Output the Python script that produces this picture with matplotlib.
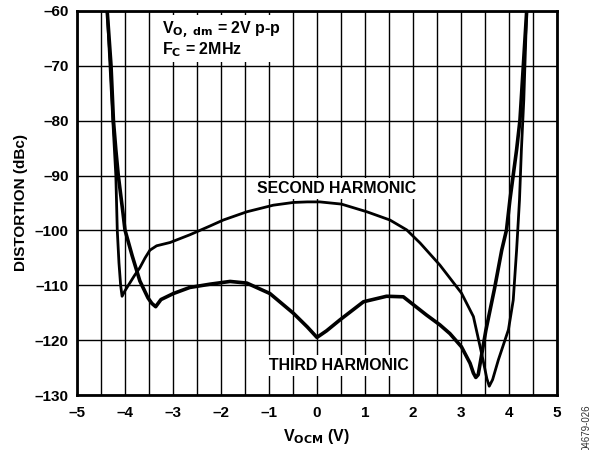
import numpy as np
import matplotlib.pyplot as plt
from matplotlib.ticker import MultipleLocator, FuncFormatter

plt.rcParams['font.family'] = ['Liberation Sans', 'DejaVu Sans']
plt.rcParams['mathtext.default'] = 'bf'

# values
second_v = [-4.37, -4.30, -4.24, -4.19, -4.16, -4.125, -4.09, -4.06, -4.00, -3.90, -3.80, -3.69,
            -3.58, -3.48, -3.34, -3.06, -2.65, -2.23, -1.95, -1.46, -0.91, -0.49, -0.20,
            0.06, 0.51, 1.04, 1.52, 1.87, 2.15, 2.56, 3.01, 3.26, 3.40, 3.46, 3.54, 3.59,
            3.66, 3.78, 3.99, 4.09, 4.16, 4.22, 4.26, 4.31, 4.37]
second_db = [-60, -72, -82, -90, -100, -105.9, -110, -112, -111, -109.6, -108.2, -106.8,
             -105, -103.6, -102.8, -102.2, -100.8, -99.2, -98.1, -96.6, -95.4, -94.9, -94.8,
             -94.8, -95.2, -96.6, -98.1, -99.9, -102.3, -106.3, -111.4, -115.7, -121.2, -123.6, -127, -128.4,
             -127.2, -123.6, -118.1, -112.7, -103.6, -94.5, -85.3, -76.2, -60]

third_v = [-4.37, -4.29, -4.24, -4.19, -4.14, -4.04, -4.00, -3.85, -3.69, -3.52, -3.44, -3.36,
           -3.25, -2.99, -2.65, -2.23, -1.81, -1.46, -0.98, -0.49, -0.20, 0.0, 0.20, 0.48, 0.97,
           1.45, 1.80, 2.28, 2.56, 2.77, 3.01, 3.19, 3.26, 3.31, 3.36, 3.52, 3.70, 3.85,
           3.95, 4.02, 4.09, 4.16, 4.23, 4.30, 4.37]
third_db = [-60, -70, -80, -85.3, -89.9, -96.9, -99.9, -104.6, -109.2, -112.3, -113.3, -113.9,
            -112.6, -111.5, -110.4, -109.8, -109.3, -109.6, -111.5, -115.1, -117.6, -119.5, -118.3, -116.3, -113.0,
            -112.0, -112.1, -115.4, -117.2, -118.8, -121.2, -124.2, -126.0, -126.8, -126.3, -118.2, -110.6, -103.6,
            -99.9, -94.5, -89.9, -85.3, -79.9, -70, -60]

xticks = [-5, -4, -3, -2, -1, 0, 1, 2, 3, 4, 5]
yticks = [-130, -120, -110, -100, -90, -80, -70, -60]

fig = plt.figure(figsize=(6.06, 4.5), dpi=100)
ax = fig.add_axes([0.127, 0.1222, 0.792, 0.8534])

ax.plot(second_v, second_db, color='black', lw=2.0, solid_joinstyle='round', zorder=3)
ax.plot(third_v, third_db, color='black', lw=2.6, solid_joinstyle='round', zorder=3)

ax.set_xlim(-5, 5)
ax.set_ylim(-130, -60)
ax.set_xticks(xticks)
ax.set_yticks(yticks)
ax.xaxis.set_minor_locator(MultipleLocator(0.5))
dash = FuncFormatter(lambda v, p: ('%d' % v).replace('-', '\u2013'))
ax.xaxis.set_major_formatter(dash)
ax.yaxis.set_major_formatter(dash)
ax.grid(True, which='both', color='black', lw=1.0)
ax.set_axisbelow(True)
ax.tick_params(which='both', length=0)
ax.tick_params(axis='x', pad=8)
ax.tick_params(axis='y', pad=6)
for lab in ax.get_xticklabels() + ax.get_yticklabels():
    lab.set_fontweight('bold')
    lab.set_fontsize(11)
for s in ax.spines.values():
    s.set_linewidth(2)

ax.set_xlabel(r'V$_\mathbf{OCM}$ (V)', fontsize=11.5, fontweight='bold', labelpad=5)
ax.set_ylabel('DISTORTION (dBc)', fontsize=11, fontweight='bold', labelpad=5)

box = dict(facecolor='white', edgecolor='none', pad=2)
ax.text(-3.23, -61.6, r'V$_\mathbf{O,\ dm}$ = 2V p-p' + '\n' + r'F$_\mathbf{C}$ = 2MHz',
        fontsize=11.5, fontweight='bold', va='top', ha='left', linespacing=0.95,
        bbox=box, zorder=4)

ax.text(0.4, -92.4, 'SECOND HARMONIC', fontsize=11.4, fontweight='bold',
        ha='center', va='center', bbox=box, zorder=4)
ax.text(0.45, -124.6, 'THIRD HARMONIC', fontsize=11.4, fontweight='bold',
        ha='center', va='center', bbox=box, zorder=4)

fig.text(586.7 / 606, 1 - 428 / 450, '04679-026', rotation=90, fontsize=7,
         ha='center', va='center', color='#333333')

fig.savefig('out.png', dpi=100)
